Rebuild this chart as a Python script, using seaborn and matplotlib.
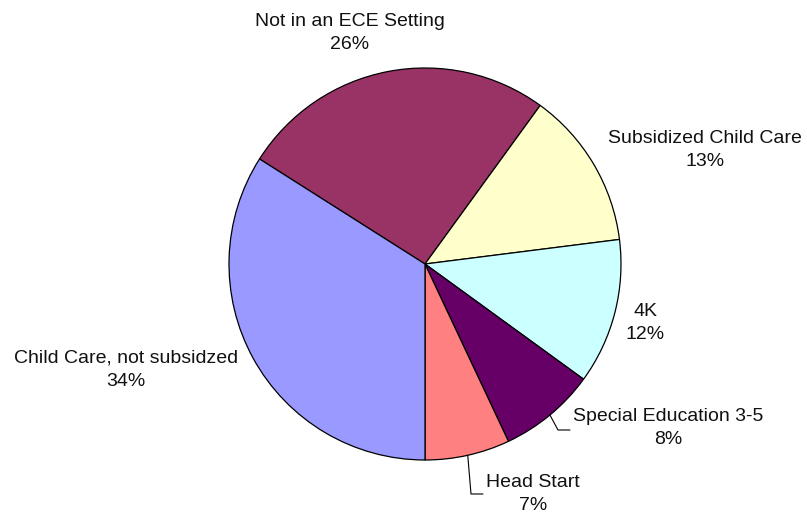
import numpy as np
import seaborn as sns
import matplotlib.pyplot as plt

# Data
categories = ["Not in an ECE Setting", "Subsidized Child Care", "4K",
              "Special Education 3-5", "Head Start", "Child Care, not subsidzed"]
shares = [26, 13, 12, 8, 7, 34]
colors = ["#993366", "#FFFFCC", "#CCFFFF", "#660066", "#FF8080", "#9999FF"]

# label layout (pixel coords, y from top)
label_pos = [(350, 33), (705, 150), (645, 323), (668, 428), (533, 494), (126, 370)]
# leader lines: elbow and end point for the slices that have one
leaders = {3: [(558, 430), (570, 430)], 4: [(471, 494), (483, 494)]}

sns.set_theme(style="white")
plt.rcParams['font.family'] = ['Liberation Sans', 'DejaVu Sans']

W, H = 807, 515
fig = plt.figure(figsize=(W / 100, H / 100), dpi=100)
ax = fig.add_axes([0, 0, 1, 1])

cx, cy, r = 425, H - 264, 196
wedges, _ = ax.pie(shares, colors=colors, startangle=147.6, counterclock=False,
                   center=(cx, cy), radius=r,
                   wedgeprops=dict(edgecolor="black", linewidth=0.9))

for i, (name, val) in enumerate(zip(categories, shares)):
    x, y = label_pos[i]
    ax.text(x, H - y, f"{name}\n{val}%", ha="center", va="center",
            multialignment="center", fontsize=14, color="#111111", linespacing=1.5)
    if i in leaders:
        w = wedges[i]
        mid = np.deg2rad((w.theta1 + w.theta2) / 2)
        pts = [(cx + r * np.cos(mid), cy + r * np.sin(mid))]
        pts += [(px, H - py) for px, py in leaders[i]]
        xs, ys = zip(*pts)
        ax.plot(xs, ys, color="black", linewidth=0.8)

ax.set_xlim(0, W)
ax.set_ylim(0, H)
ax.set_aspect("auto")
ax.axis("off")

fig.savefig("out.png", dpi=100)
